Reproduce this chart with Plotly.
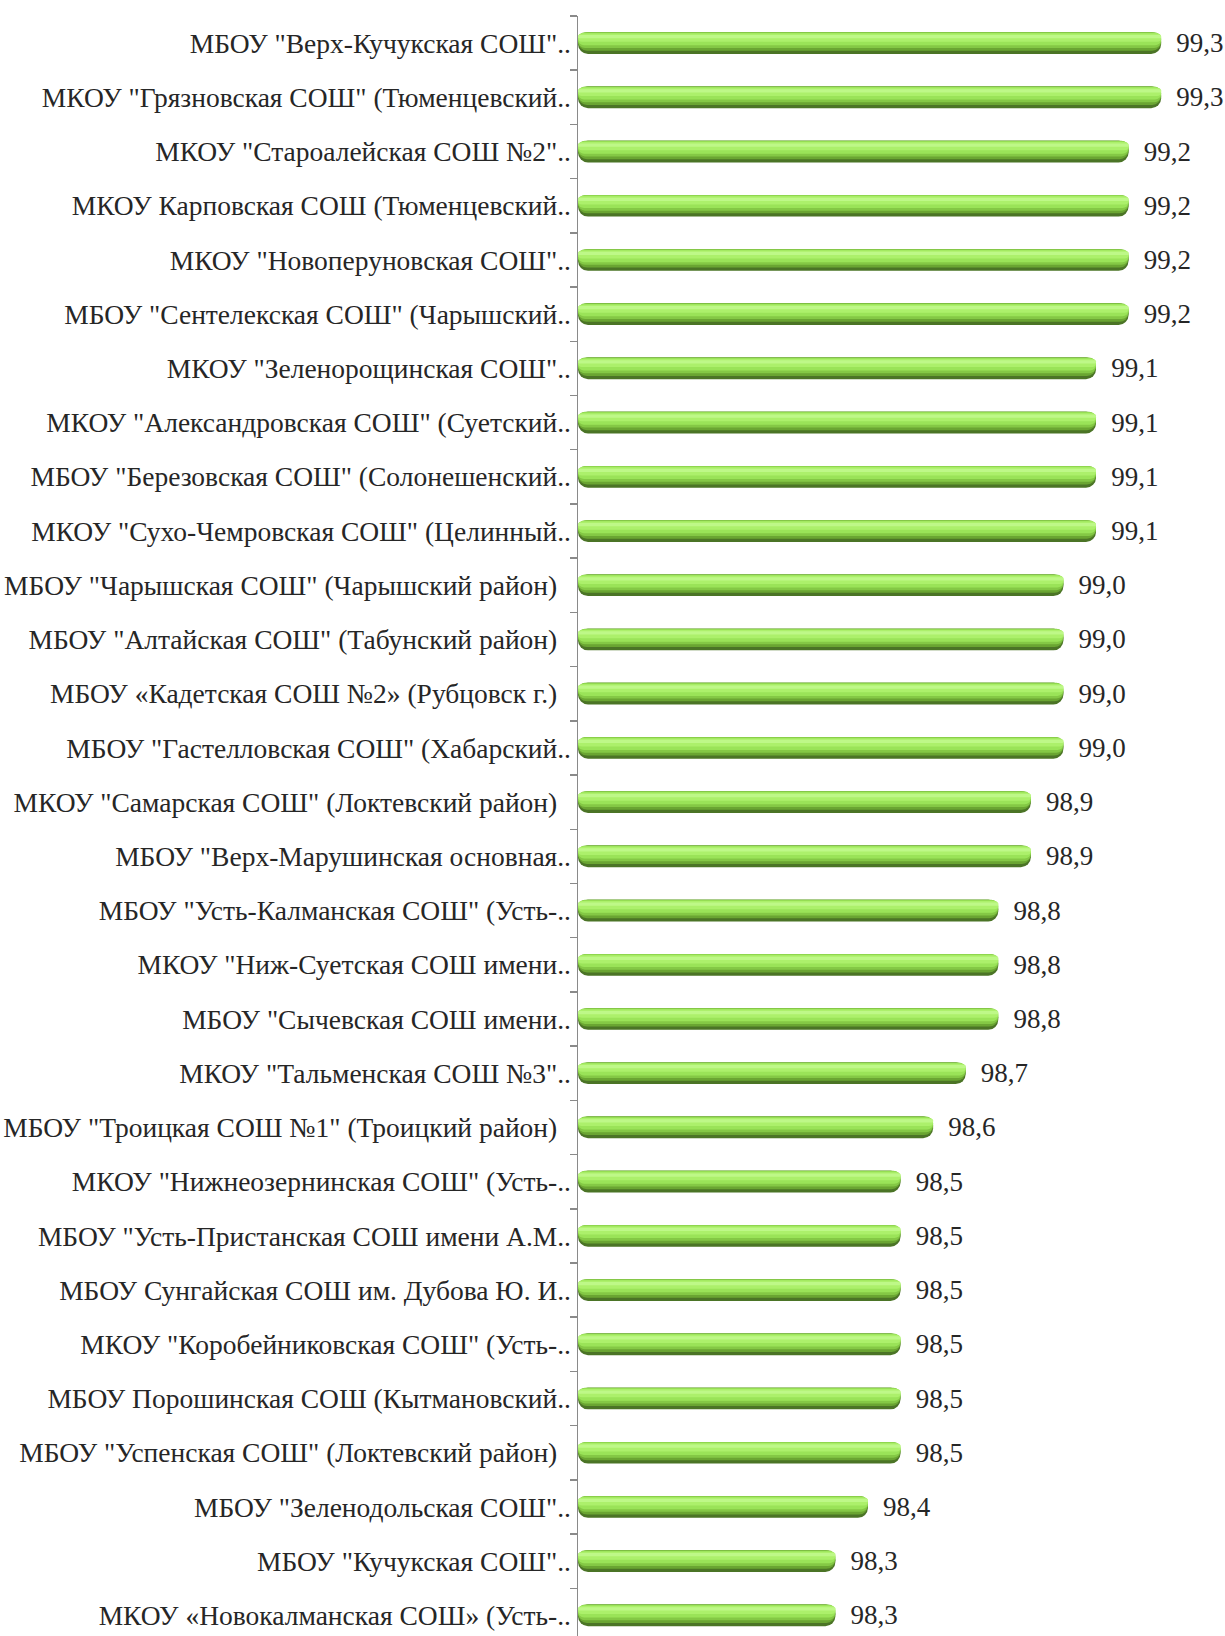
import plotly.graph_objects as go

schools = [
    'МБОУ "Верх-Кучукская СОШ"..',
    'МКОУ "Грязновская СОШ" (Тюменцевский..',
    'МКОУ "Староалейская СОШ №2"..',
    'МКОУ Карповская СОШ (Тюменцевский..',
    'МКОУ "Новоперуновская СОШ"..',
    'МБОУ "Сентелекская СОШ" (Чарышский..',
    'МКОУ "Зеленорощинская СОШ"..',
    'МКОУ "Александровская СОШ" (Суетский..',
    'МБОУ "Березовская СОШ" (Солонешенский..',
    'МКОУ "Сухо-Чемровская СОШ" (Целинный..',
    'МБОУ "Чарышская СОШ" (Чарышский район)\u00a0\u00a0',
    'МБОУ "Алтайская СОШ" (Табунский район)\u00a0\u00a0',
    'МБОУ «Кадетская СОШ №2» (Рубцовск г.)\u00a0\u00a0',
    'МБОУ "Гастелловская СОШ" (Хабарский..',
    'МКОУ "Самарская СОШ" (Локтевский район)\u00a0\u00a0',
    'МБОУ "Верх-Марушинская основная..',
    'МБОУ "Усть-Калманская СОШ" (Усть-..',
    'МКОУ "Ниж-Суетская СОШ имени..',
    'МБОУ "Сычевская СОШ имени..',
    'МКОУ "Тальменская СОШ №3"..',
    'МБОУ "Троицкая СОШ №1" (Троицкий район)\u00a0\u00a0',
    'МКОУ "Нижнеозернинская СОШ" (Усть-..',
    'МБОУ "Усть-Пристанская СОШ имени А.М..',
    'МБОУ Сунгайская СОШ им. Дубова Ю. И..',
    'МКОУ "Коробейниковская СОШ" (Усть-..',
    'МБОУ Порошинская СОШ (Кытмановский..',
    'МБОУ "Успенская СОШ" (Локтевский район)\u00a0\u00a0',
    'МБОУ "Зеленодольская СОШ"..',
    'МБОУ "Кучукская СОШ"..',
    'МКОУ «Новокалманская СОШ» (Усть-..',
]

scores = [99.3, 99.3, 99.2, 99.2, 99.2, 99.2, 99.1, 99.1, 99.1, 99.1,
          99.0, 99.0, 99.0, 99.0, 98.9, 98.9, 98.8, 98.8, 98.8, 98.7,
          98.6, 98.5, 98.5, 98.5, 98.5, 98.5, 98.5, 98.4, 98.3, 98.3]

AXIS_MIN = 97.51
AXIS_MAX = 99.41
lengths = [round(s - AXIS_MIN, 3) for s in scores]

# layered bars to mimic a cylinder gradient: (width, offset, color)
layers = [
    (0.40, -0.20, '#4b7426'),
    (0.34, -0.20, '#6aa532'),
    (0.29, -0.20, '#84c845'),
    (0.23, -0.19, '#9ae358'),
    (0.15, -0.175, '#acf06b'),
    (0.06, -0.15, '#bef888'),
]

FONT = 'Liberation Serif, Times New Roman, serif'
FS = 27.5

fig = go.Figure()
for i, (w, off, col) in enumerate(layers):
    first = i == 0
    fig.add_trace(go.Bar(
        x=lengths, y=schools, orientation='h', base=AXIS_MIN,
        width=w, offset=off,
        marker=dict(color=col, line=dict(width=0), cornerradius='50%'),
        customdata=scores,
        texttemplate='\u00a0\u2009%{customdata:.1f}' if first else None,
        textposition='outside' if first else 'none',
        constraintext='none',
        cliponaxis=False,
        textfont=dict(family=FONT, size=27, color='#262626'),
        hoverinfo='skip', showlegend=False,
    ))

fig.update_layout(
    width=1225, height=1636,
    margin=dict(l=578, r=28, t=16, b=0, autoexpand=False),
    paper_bgcolor='white', plot_bgcolor='white',
    barmode='overlay', separators=', ',
    font=dict(family=FONT, size=FS, color='#262626'),
)
fig.update_xaxes(range=[AXIS_MIN, AXIS_MAX], visible=False, showgrid=False,
                 zeroline=False, automargin=False)
fig.update_yaxes(
    type='category', range=[29.38, -0.5], automargin=False,
    showline=True, linecolor='#8a8a8a', linewidth=1.5,
    ticks='outside', ticklen=7, tickcolor='#8a8a8a', tickwidth=1.5,
    tickson='boundaries', showgrid=False, zeroline=False,
    tickfont=dict(family=FONT, size=FS, color='#262626'),
)

fig.write_html('out.html',
               config={'displayModeBar': False, 'staticPlot': True},
               post_script="document.body.style.margin='0';document.body.style.overflow='hidden';")
